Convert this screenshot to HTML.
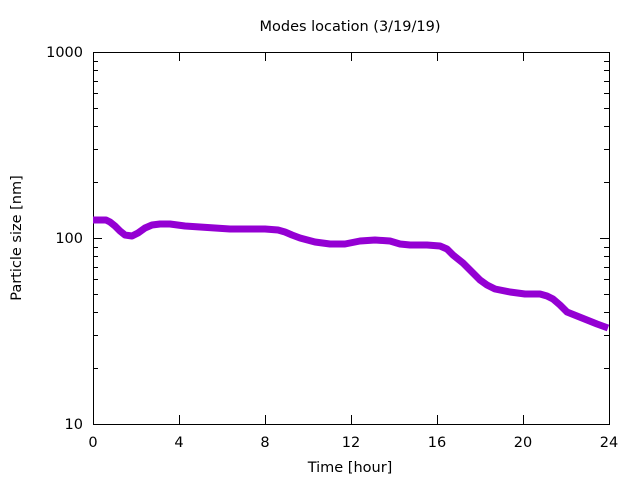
<!DOCTYPE html>
<html><head><style>body{margin:0;background:#fff}svg{display:block}text{font-family:"DejaVu Sans",sans-serif;font-size:14.5px;fill:#000}</style></head><body>
<svg width="640" height="480" xmlns="http://www.w3.org/2000/svg">
<rect width="640" height="480" fill="#fff"/>
<g stroke="#000" stroke-width="1" fill="none">
<rect x="93.5" y="52.5" width="516" height="372"/>
<path d="
M93,424.5h9 M93,238.5h9 M93,52.5h9 M609,424.5h-9 M609,238.5h-9 M609,52.5h-9
M93,368.5h5 M93,335.5h5 M93,312.5h5 M93,294.5h5 M93,279.5h5 M93,267.5h5 M93,256.5h5 M93,247.5h5
M93,182.5h5 M93,149.5h5 M93,126.5h5 M93,108.5h5 M93,93.5h5 M93,81.5h5 M93,70.5h5 M93,61.5h5
M609,368.5h-5 M609,335.5h-5 M609,312.5h-5 M609,294.5h-5 M609,279.5h-5 M609,267.5h-5 M609,256.5h-5 M609,247.5h-5
M609,182.5h-5 M609,149.5h-5 M609,126.5h-5 M609,108.5h-5 M609,93.5h-5 M609,81.5h-5 M609,70.5h-5 M609,61.5h-5
M179.5,424v-9 M265.5,424v-9 M351.5,424v-9 M437.5,424v-9 M523.5,424v-9
M179.5,52v9 M265.5,52v9 M351.5,52v9 M437.5,52v9 M523.5,52v9"/>
</g>
<polyline fill="none" stroke="#9400d3" stroke-width="7" stroke-linejoin="round" points="93,220 100,220 106,220 110,222 115,226 120,231 125,235 132,236 138,233 145,228 152,225 160,224 170,224 185,226 200,227 215,228 230,229 245,229 265,229 278,230 285,232 292,235 300,238 315,242 330,244 345,244 360,241 375,240 390,241 400,244 410,245 427,245 440,246 447,249 453,255 463,263 473,273 480,280 487,285 495,289 510,292 525,294 540,294 547,296 553,299 560,305 567,312 577,316 587,320 597,324 608,328"/>
<g text-anchor="middle">
<text x="93" y="447">0</text><text x="179" y="447">4</text><text x="265" y="447">8</text><text x="351" y="447">12</text><text x="437" y="447">16</text><text x="523" y="447">20</text><text x="609" y="447">24</text>
<text x="350" y="472">Time [hour]</text>
<text x="350" y="31">Modes location (3/19/19)</text>
<text transform="translate(21,238) rotate(-90)">Particle size [nm]</text>
</g>
<g text-anchor="end">
<text x="83" y="429">10</text><text x="83" y="243">100</text><text x="83" y="57">1000</text>
</g>
</svg>
</body></html>
